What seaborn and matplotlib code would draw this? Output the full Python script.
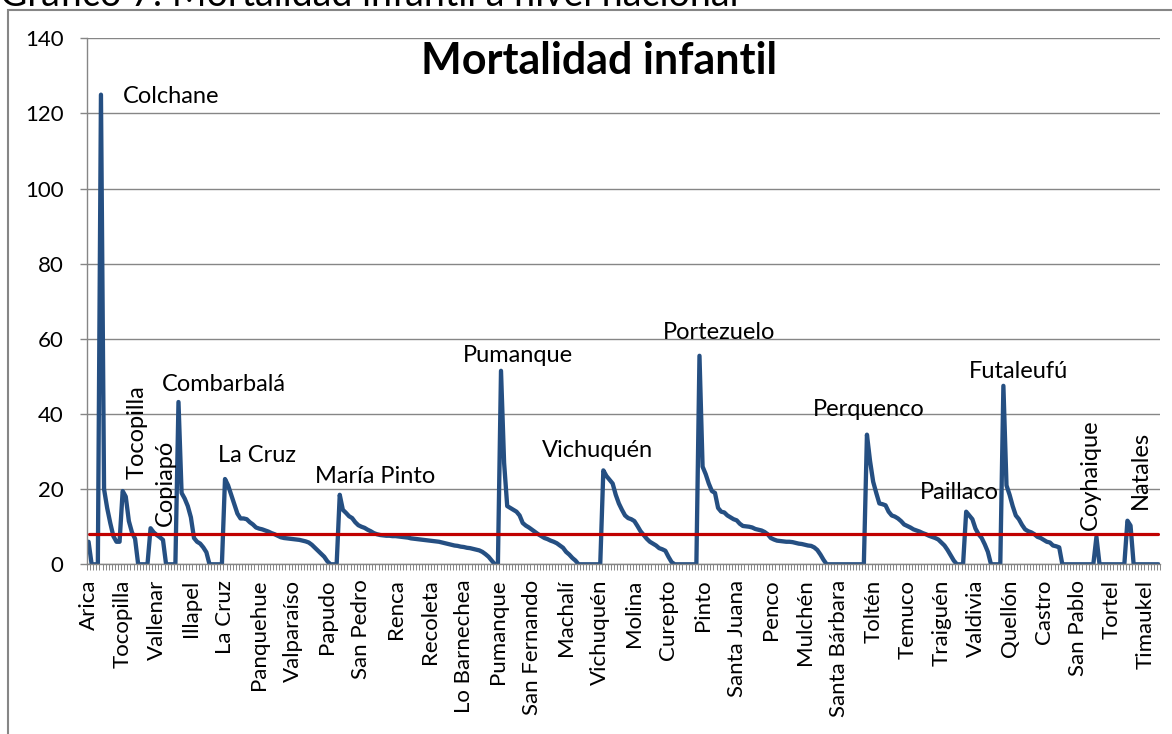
import numpy as np
import pandas as pd
import matplotlib
matplotlib.use("Agg")
import matplotlib.pyplot as plt
import seaborn as sns
from matplotlib.patches import Rectangle

# ---- data: infant mortality per comuna, grouped by region (sorted desc. within region)
arica_parinacota = [6.0, 0, 0, 0]
tarapaca = [125.0, 20.0, 15.0, 11.0, 7.5, 6.0, 6.0]
antofagasta = [19.5, 18.0, 11.5, 8.5, 6.8, 0, 0, 0, 0]
atacama = [9.6, 8.5, 7.8, 7.2, 6.5, 0, 0, 0, 0]
coquimbo = [43.2, 19.0, 17.5, 15.5, 12.5, 7.0, 6.0, 5.5, 4.5, 3.2, 0, 0, 0, 0, 0]
valparaiso = [22.7, 21.0, 18.5, 16.0, 13.5, 12.2, 12.2, 12.0, 11.2, 10.6,
              9.8, 9.5, 9.3, 9.0, 8.7, 8.3, 8.0, 7.6, 7.2, 7.0,
              6.9, 6.8, 6.7, 6.6, 6.5, 6.3, 6.1, 5.8, 5.2, 4.4,
              3.6, 2.8, 2.0, 0.8, 0, 0, 0]
metropolitana = [18.5, 14.5, 13.7, 12.8, 12.3, 11.2, 10.4, 10.0, 9.7, 9.2,
                 8.8, 8.3, 8.0, 7.8, 7.7, 7.6, 7.6, 7.5, 7.5, 7.4,
                 7.3, 7.2, 7.1, 6.9, 6.8, 6.7, 6.6, 6.5, 6.4, 6.3,
                 6.2, 6.1, 6.0, 5.8, 5.6, 5.4, 5.2, 5.0, 4.9, 4.7,
                 4.6, 4.4, 4.3, 4.1, 3.9, 3.7, 3.3, 2.7, 2.0, 1.0, 0, 0]
ohiggins = [51.5, 27.0, 15.5, 15.0, 14.5, 14.0, 13.0, 11.0, 10.3, 9.8,
            9.2, 8.6, 8.0, 7.5, 7.0, 6.7, 6.3, 6.0, 5.6, 5.0,
            4.4, 3.3, 2.6, 1.7, 1.0, 0, 0, 0, 0, 0, 0, 0, 0]
maule = [25.0, 23.5, 22.5, 21.5, 18.5, 16.2, 14.5, 13.0, 12.3, 12.0,
         11.5, 10.2, 8.8, 7.8, 6.8, 6.0, 5.5, 5.0, 4.3, 4.0,
         3.6, 2.0, 0.6, 0, 0, 0, 0, 0, 0, 0, 0]
biobio = [55.5, 26.0, 24.0, 21.5, 19.5, 19.0, 15.0, 14.0, 13.8, 13.0,
          12.5, 12.0, 11.7, 10.8, 10.2, 10.1, 10.0, 9.8, 9.4, 9.2,
          9.0, 8.6, 8.0, 7.0, 6.6, 6.3, 6.2, 6.1, 6.0, 6.0,
          5.9, 5.7, 5.5, 5.4, 5.2, 5.0, 4.9, 4.5, 3.8, 2.6,
          1.2, 0, 0, 0, 0, 0, 0, 0, 0, 0, 0, 0, 0, 0]
araucania = [34.5, 27.5, 22.0, 19.0, 16.2, 16.0, 15.7, 14.0, 13.0, 12.7,
             12.2, 11.5, 10.6, 10.2, 9.8, 9.3, 9.0, 8.7, 8.3, 8.0,
             7.6, 7.3, 7.0, 6.6, 5.8, 5.0, 3.8, 2.4, 1.0, 0, 0, 0]
los_rios = [14.0, 13.0, 12.0, 9.5, 8.0, 7.0, 5.3, 3.3, 0, 0, 0, 0]
los_lagos = [47.5, 21.0, 18.5, 15.5, 13.0, 12.0, 10.5, 9.3, 8.8, 8.5,
             8.0, 7.3, 7.0, 6.5, 6.0, 5.8, 5.0, 4.8, 4.5, 0,
             0, 0, 0, 0, 0, 0, 0, 0, 0, 0]
aysen = [7.3, 0, 0, 0, 0, 0, 0, 0, 0, 0]
magallanes = [11.6, 10.3, 0, 0, 0, 0, 0, 0, 0, 0, 0]

national_rate = 8.1

tick_labels = ["Arica", "Tocopilla", "Vallenar", "Illapel", "La Cruz", "Panquehue",
               "Valparaíso", "Papudo", "San Pedro", "Renca", "Recoleta", "Lo Barnechea",
               "Pumanque", "San Fernando", "Machalí", "Vichuquén", "Molina", "Curepto",
               "Pinto", "Santa Juana", "Penco", "Mulchén", "Santa Bárbara", "Toltén",
               "Temuco", "Traiguén", "Valdivia", "Quellón", "Castro", "San Pablo",
               "Tortel", "Timaukel"]
label_step = 11

annot_names = ["Colchane", "Combarbalá", "La Cruz", "María Pinto", "Pumanque",
               "Vichuquén", "Portezuelo", "Perquenco", "Paillaco", "Futaleufú"]
annot_rot_names = ["Tocopilla", "Copiapó", "Coyhaique", "Natales"]

# ---- assemble
values = (arica_parinacota + tarapaca + antofagasta + atacama + coquimbo + valparaiso +
          metropolitana + ohiggins + maule + biobio + araucania + los_rios +
          los_lagos + aysen + magallanes)
N = len(values)
df = pd.DataFrame({"idx": np.arange(N), "tasa": values,
                   "nacional": [national_rate] * N})

sns.set_theme(style="white")
plt.rcParams["font.family"] = ["Lato", "DejaVu Sans"]

W, H = 1172, 734
fig = plt.figure(figsize=(W / 100, H / 100), dpi=100)
left, right, top, bottom = 87, 1160, 38.3, 564.3
ax = fig.add_axes([left / W, 1 - bottom / H, (right - left) / W, (bottom - top) / H])

grid_c = "#868686"
ax.set_axisbelow(True)
ax.grid(axis="y", color=grid_c, lw=1.0)
ax.grid(axis="x", visible=False)

sns.lineplot(data=df, x="idx", y="tasa", ax=ax, color="#254F82", lw=3.1,
             solid_joinstyle="round", solid_capstyle="round")
sns.lineplot(data=df, x="idx", y="nacional", ax=ax, color="#C00000", lw=2.3)

ax.set_xlim(-0.5, N - 0.5)
ax.set_ylim(0, 140)
ax.set_yticks(np.arange(0, 141, 20))
ax.set_xticks(np.arange(0, N, label_step))
ax.set_xticklabels(tick_labels[:len(range(0, N, label_step))], rotation=90)
ax.set_xticks(np.arange(-0.5, N, 1), minor=True)
ax.set_xlabel("")
ax.set_ylabel("")

for s in ["top", "right"]:
    ax.spines[s].set_visible(False)
for s in ["left", "bottom"]:
    ax.spines[s].set_color(grid_c)
    ax.spines[s].set_linewidth(1.0)

ax.tick_params(axis="x", which="major", length=0, pad=11, labelsize=16, labelcolor="black")
ax.tick_params(axis="x", which="minor", length=4.5, width=0.7, color=grid_c, bottom=True)
ax.tick_params(axis="y", which="major", length=5, width=1, color=grid_c, pad=12,
               labelsize=16, labelcolor="black", left=True)

# title inside chart
ax.text(164.6, 134.0, "Mortalidad infantil", ha="center", va="center",
        fontsize=31, fontweight="bold", color="black")

# horizontal annotations (left x, center y)
annot_pos = [(11.1, 124.6), (23.7, 47.8), (41.7, 28.9), (73.0, 23.5), (120.7, 55.7),
             (146.2, 30.4), (185.2, 61.6), (233.6, 41.1), (268.1, 19.0), (283.9, 51.2)]
for name, (x, y) in zip(annot_names, annot_pos):
    ax.text(x, y, name, ha="left", va="center", fontsize=17, color="black")

annot_rot_pos = [(15.8, 35.3), (24.9, 21.8), (322.9, 23.8), (339.1, 25.1)]
for name, (x, y) in zip(annot_rot_names, annot_rot_pos):
    ax.text(x, y, name, ha="center", va="center", rotation=90, fontsize=17, color="black")

# chart frame and the caption above it (partly cut by the top edge, as in the source)
fig.add_artist(Rectangle((8 / W, -0.05), 1.2, (H - 10) / H + 0.05,
                         transform=fig.transFigure, fill=False,
                         edgecolor=grid_c, lw=1.5))
fig.text(0.0, 1 - 6 / H, "Gráfico 7: Mortalidad infantil a nivel nacional",
         ha="left", va="baseline", fontsize=27, color="black")

fig.savefig("out.png", dpi=100)
